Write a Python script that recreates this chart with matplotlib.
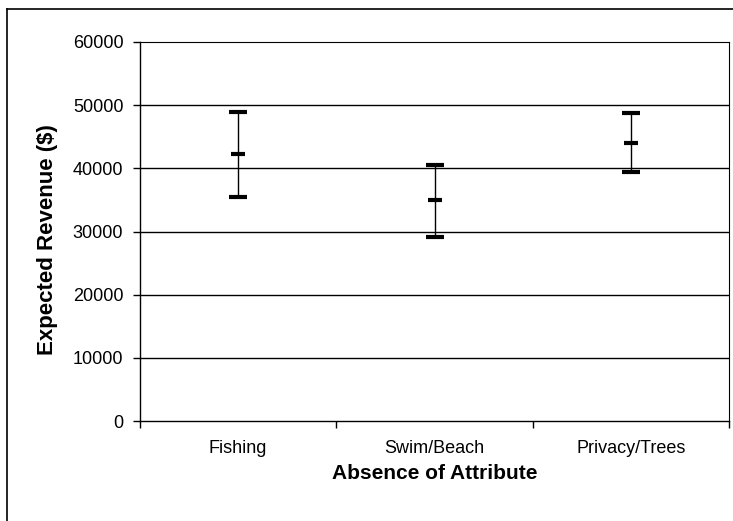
import matplotlib.pyplot as plt
from matplotlib.lines import Line2D

plt.rcParams['font.family'] = ['Liberation Sans', 'DejaVu Sans']

categories = ['Fishing', 'Swim/Beach', 'Privacy/Trees']
expected = [42200, 35000, 44000]
upper = [48900, 40500, 48700]
lower = [35400, 29100, 39400]
yticks = [0, 10000, 20000, 30000, 40000, 50000, 60000]

fig = plt.figure(figsize=(7.33, 5.21), dpi=100)
ax = fig.add_axes([140 / 733, 100 / 521, 589 / 733, 379 / 521])

pos = [i + 0.5 for i in range(len(categories))]

for y in yticks[1:-1]:
    ax.axhline(y, color='black', lw=1.0, zorder=1)

ax.vlines(pos, lower, upper, color='black', lw=1.0, zorder=3)
ax.scatter(pos, upper, marker='_', s=180, lw=3, color='black', zorder=4)
ax.scatter(pos, lower, marker='_', s=180, lw=3, color='black', zorder=4)
ax.scatter(pos, expected, marker='_', s=100, lw=3, color='black', zorder=4)

ax.set_xlim(0, len(categories))
ax.set_ylim(0, 60000)
ax.set_yticks(yticks)
ax.set_xticks(range(len(categories) + 1))
ax.set_xticklabels([])
ax.set_xticks(pos, minor=True)
ax.set_xticklabels(categories, minor=True, fontsize=13)
ax.tick_params(axis='x', which='minor', length=0, pad=14)
ax.tick_params(axis='x', which='major', length=5, width=1)
ax.tick_params(axis='y', length=5, width=1, labelsize=13, pad=7)

for side in ['top', 'right']:
    ax.spines[side].set_linestyle((0, (4, 1)))
    ax.spines[side].set_linewidth(0.8)
for side in ['left', 'bottom']:
    ax.spines[side].set_linewidth(1.0)

ax.set_ylabel('Expected Revenue ($)', fontsize=16, fontweight='bold')
ax.yaxis.set_label_coords(-0.139, 0.478)
ax.set_xlabel('Absence of Attribute', fontsize=15, fontweight='bold', labelpad=5)

# outer chart frame (left and top edges visible)
fig.add_artist(Line2D([7 / 733, 7 / 733], [0, 1 - 9 / 521], color='black', lw=1.2,
                      transform=fig.transFigure))
fig.add_artist(Line2D([7 / 733, 1], [1 - 9 / 521, 1 - 9 / 521], color='black', lw=1.2,
                      transform=fig.transFigure))

fig.savefig('out.png', dpi=100)
